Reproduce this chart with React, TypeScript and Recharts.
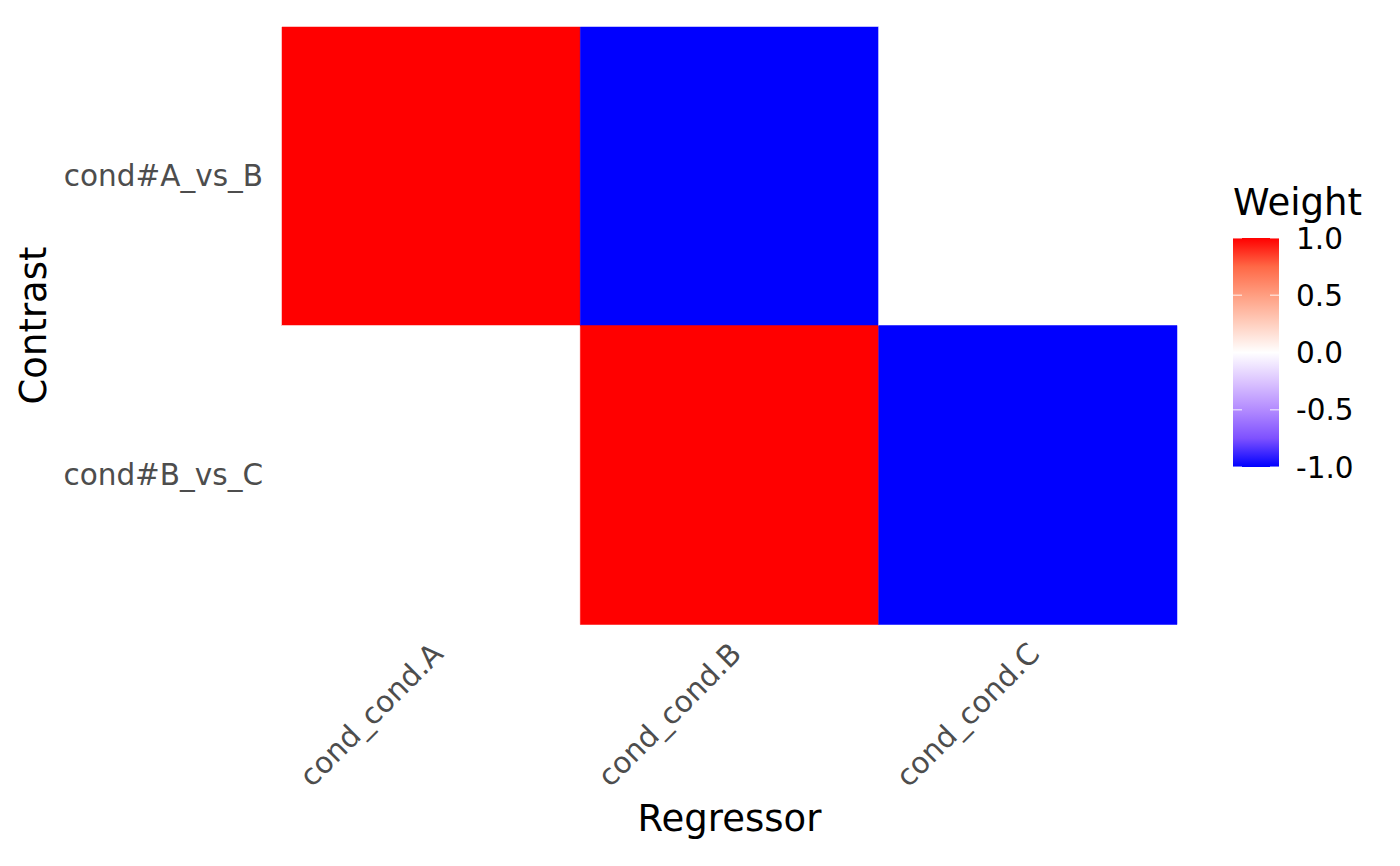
import React from 'react';
import { BarChart, Bar, XAxis, YAxis, Cell } from 'recharts';

const regressors = ['cond_cond.A', 'cond_cond.B', 'cond_cond.C'];
const contrasts = ['cond#A_vs_B', 'cond#B_vs_C'];
const weightsAvsB = [1, -1, 0];
const weightsBvsC = [0, 1, -1];
const legendTicks = [1.0, 0.5, 0.0, -0.5, -1.0];

const weightRows = [weightsAvsB, weightsBvsC];
const FONT = '"DejaVu Sans", Verdana, sans-serif';

// blue - white - red, like scale_fill_gradient2 (only the ends and middle are used by cells)
const weightColor = (w: number) => {
    if (w >= 0) {
        const k = Math.round(255 * (1 - w));
        return `rgb(255,${k},${k})`;
    }
    const k = Math.round(255 * (1 + w));
    return `rgb(${k},${k},255)`;
};

// colour bar stops, roughly Lab-interpolated like ggplot
const barStops = [
    { o: '0%', c: 'rgb(255,0,0)' },
    { o: '12.5%', c: 'rgb(255,104,70)' },
    { o: '25%', c: 'rgb(255,158,129)' },
    { o: '37.5%', c: 'rgb(255,207,191)' },
    { o: '50%', c: 'rgb(255,255,255)' },
    { o: '62.5%', c: 'rgb(220,197,255)' },
    { o: '75%', c: 'rgb(179,139,255)' },
    { o: '87.5%', c: 'rgb(126,81,255)' },
    { o: '100%', c: 'rgb(0,0,255)' },
];

// every cell spans one unit on the x scale
const data = contrasts.map((name, i) => {
    const row: Record<string, any> = { contrast: name };
    regressors.forEach((_, j) => {
        row[`r${j}`] = 1;
        row[`w${j}`] = weightRows[i][j];
    });
    return row;
});

const YTick = (props: any) => {
    const { x, y, payload } = props;
    return (
        <text x={x - 17} y={y} dy={10} textAnchor="end" fill="#4d4d4d" fontSize={29.5} fontFamily={FONT}>
            {payload.value}
        </text>
    );
};

const XTick = (props: any) => {
    const { x, y, payload } = props;
    const label = regressors[Math.floor(payload.value)];
    return (
        <g transform={`translate(${x - 2},${y + 14})`}>
            <text transform="rotate(-45)" textAnchor="end" dy={22} fill="#4d4d4d" fontSize={29.5} fontFamily={FONT}>
                {label}
            </text>
        </g>
    );
};

export default function App() {
    const barTop = 238;
    const barBottom = 467;
    const barH = barBottom - barTop;
    const tickY = (v: number) => barTop + ((1 - v) / 2) * barH;

    return (
        <div style={{ position: 'absolute', left: 0, top: 0, width: 1400, height: 866, background: '#fff', fontFamily: FONT }}>
            <BarChart
                width={1400}
                height={866}
                data={data}
                layout="vertical"
                barCategoryGap={0}
                margin={{ top: 27, right: 223, bottom: 0, left: 0 }}
            >
                <XAxis
                    type="number"
                    domain={[0, 3]}
                    ticks={[0.5, 1.5, 2.5]}
                    height={242}
                    axisLine={false}
                    tickLine={false}
                    tickSize={0}
                    tick={<XTick />}
                />
                <YAxis
                    type="category"
                    dataKey="contrast"
                    width={282}
                    axisLine={false}
                    tickLine={false}
                    tickSize={0}
                    tick={<YTick />}
                />
                {regressors.map((r, j) => (
                    <Bar key={r} dataKey={`r${j}`} stackId="cells" isAnimationActive={false}>
                        {data.map((row, i) => (
                            <Cell key={`c-${i}-${j}`} fill={weightColor(row[`w${j}`])} stroke={weightColor(row[`w${j}`])} strokeWidth={0.5} />
                        ))}
                    </Bar>
                ))}
            </BarChart>

            <svg width={1400} height={866} style={{ position: 'absolute', left: 0, top: 0, pointerEvents: 'none' }}>
                <defs>
                    <linearGradient id="wgrad" x1="0" y1="0" x2="0" y2="1">
                        {barStops.map((s) => (
                            <stop key={s.o} offset={s.o} stopColor={s.c} />
                        ))}
                    </linearGradient>
                </defs>
                <text x={729.5} y={831} textAnchor="middle" fontSize={37} fill="#000" fontFamily={FONT}>Regressor</text>
                <text transform="translate(46,325.5) rotate(-90)" textAnchor="middle" fontSize={37} fill="#000" fontFamily={FONT}>Contrast</text>

                <text x={1233} y={215} fontSize={37} fill="#000" fontFamily={FONT}>Weight</text>
                <rect x={1233} y={barTop} width={46} height={barH} fill="url(#wgrad)" />
                {legendTicks.map((v) => (
                    <g key={v}>
                        <line x1={1233} x2={1242} y1={tickY(v)} y2={tickY(v)} stroke="#fff" strokeOpacity={0.6} strokeWidth={1.5} />
                        <line x1={1270} x2={1279} y1={tickY(v)} y2={tickY(v)} stroke="#fff" strokeOpacity={0.6} strokeWidth={1.5} />
                        <text x={1296} y={tickY(v)} dy={10.5} fontSize={29.5} fill="#000" fontFamily={FONT}>
                            {v.toFixed(1)}
                        </text>
                    </g>
                ))}
            </svg>
        </div>
    );
}
